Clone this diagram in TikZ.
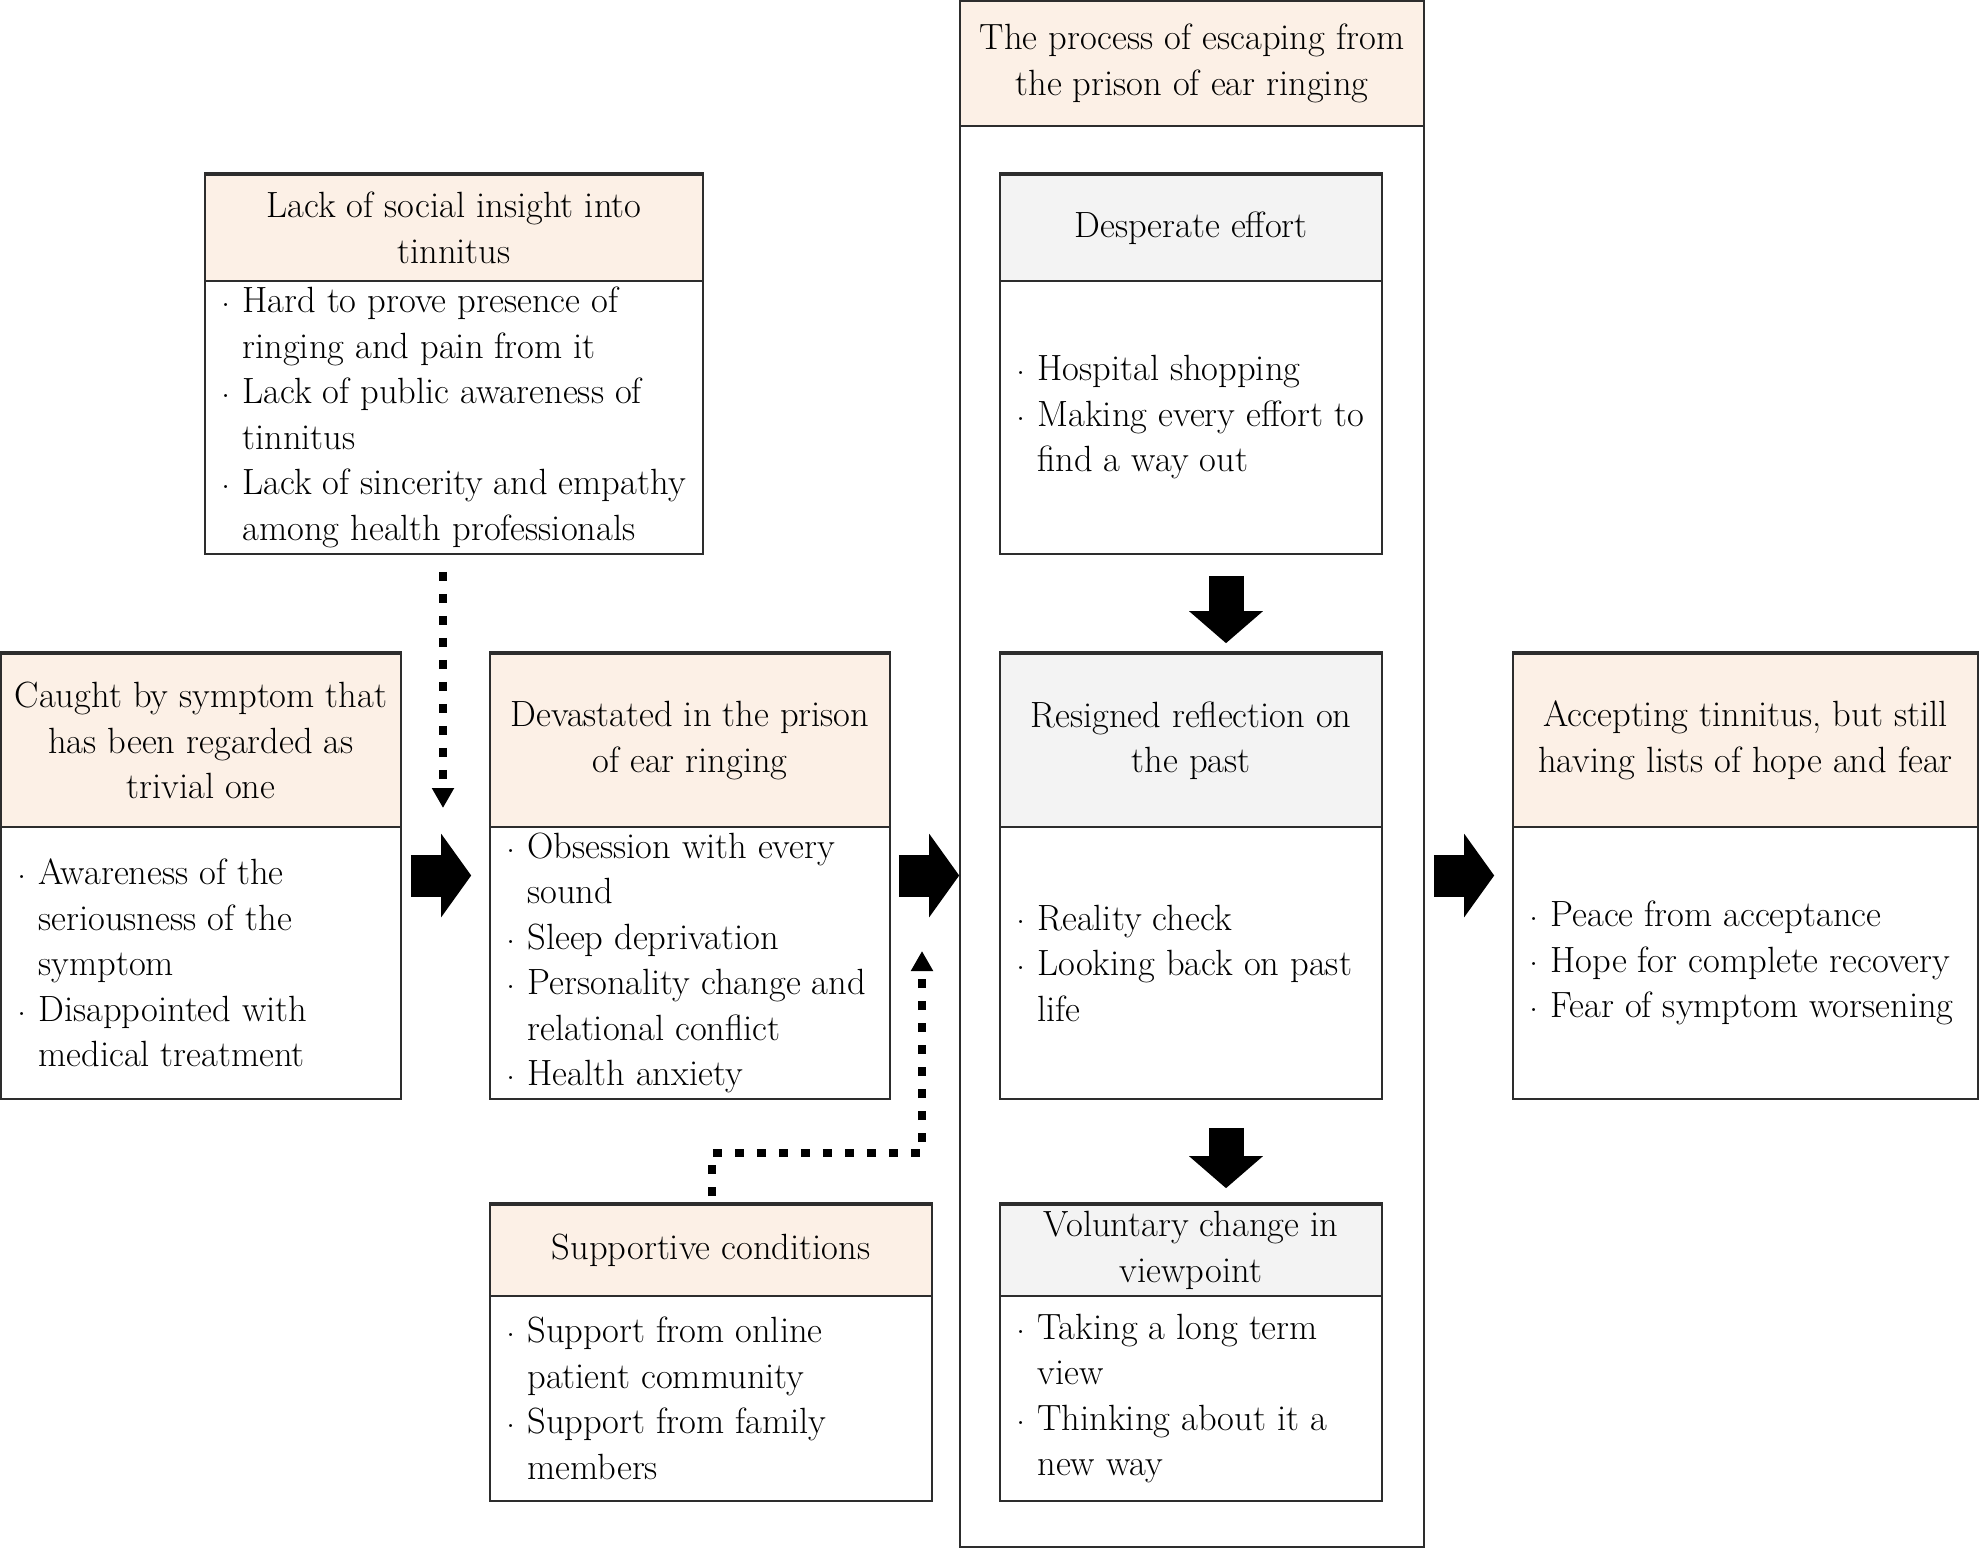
\documentclass[tikz,border=0pt]{standalone}
\usepackage{fontspec}
\usetikzlibrary{arrows.meta,calc}
\definecolor{peach}{RGB}{252,240,230}
\definecolor{lgray}{RGB}{243,243,243}
\definecolor{edge}{RGB}{45,45,45}
\newcommand{\bl}{\makebox[0.5em][l]{\hspace*{-0.08em}\raisebox{0.17em}{.}}}
\newcommand{\ct}{\hspace*{0.5em}}
\newcommand{\mkbox}[9]{%
  \node[frame, minimum width={#4-#2}, minimum height={#6-#3}] (#1) at ({(#2+#4)/2},{(#3+#6)/2}) {};
  \node[headbox, fill=#7, minimum width={#4-#2}, minimum height={#5-#3}] (#1h) at ({(#2+#4)/2},{(#3+#5)/2+2}) {#8};
  \node[bodytext] (#1b) at ({#2+19},{(#5+#6)/2+1}) {#9};
}
\begin{document}
\begin{tikzpicture}[x=1pt,y=-1pt,
  txt/.style={font=\fontsize{36.5}{45.5}\selectfont},
  frame/.style={draw=edge, line width=1.6pt, fill=white, inner sep=0pt},
  headbox/.style={draw=edge, line width=1.6pt, inner sep=0pt, align=center, txt},
  bodytext/.style={anchor=west, inner sep=0pt, align=left, txt},
  bigarrow/.style={line width=42pt, -{Triangle[length=30pt 0 0,width=82pt 0 0]}},
  downarrow/.style={line width=35pt, -{Triangle[length=32pt 0 0,width=72pt 0 0]}},
  dotarrow/.style={line width=8pt, dash pattern=on 9pt off 13pt, -{Triangle[length=20pt 0 0,width=21pt 0 0]}}
]
\useasboundingbox (0,0) rectangle (1980,1549);
\fill[white] (0,0) rectangle (1980,1549);

% big process frame
\node[frame, minimum width=464, minimum height=1546] (big) at (1192,774) {};
\node[headbox, fill=peach, minimum width=464, minimum height=125] (bigh) at (1192,63.5)
  {\raisebox{-2pt}{}The process of escaping from\\the prison of ear ringing};

\mkbox{caught}{1}{652}{401}{825}{1099}{peach}
  {Caught by symptom that\\has been regarded as\\trivial one}
  {\bl Awareness of the\\\ct seriousness of the\\\ct symptom\\\bl Disappointed with\\\ct medical treatment}

\mkbox{lack}{205}{173}{703}{279}{554}{peach}
  {Lack of social insight into\\tinnitus}
  {\bl Hard to prove presence of\\\ct ringing and pain from it\\\bl Lack of public awareness of\\\ct tinnitus\\\bl Lack of sincerity and empathy\\\ct among health professionals}

\mkbox{dev}{490}{652}{890}{825}{1099}{peach}
  {Devastated in the prison\\of ear ringing}
  {\bl Obsession with every\\\ct sound\\\bl Sleep deprivation\\\bl Personality change and\\\ct relational conflict\\\bl Health anxiety}

\mkbox{sup}{490}{1203}{932}{1294}{1501}{peach}
  {Supportive conditions}
  {\bl Support from online\\\ct patient community\\\bl Support from family\\\ct members}

\mkbox{des}{1000}{173}{1382}{279}{554}{lgray}
  {Desperate effort}
  {\bl Hospital shopping\\\bl Making every effort to\\\ct find a way out}

\mkbox{res}{1000}{652}{1382}{825}{1099}{lgray}
  {Resigned reflection on\\the past}
  {\bl Reality check\\\bl Looking back on past\\\ct life}

\mkbox{vol}{1000}{1203}{1382}{1294}{1501}{lgray}
  {Voluntary change in\\viewpoint}
  {\bl Taking a long term\\\ct view\\\bl Thinking about it a\\\ct new way}

\mkbox{acc}{1513}{652}{1978}{825}{1099}{peach}
  {Accepting tinnitus, but still\\having lists of hope and fear}
  {\bl Peace from acceptance\\\bl Hope for complete recovery\\\bl Fear of symptom worsening}

% block arrows
\draw[bigarrow] ([xshift=9pt]caught.east) -- ([xshift=-18pt]dev.west);
\draw[bigarrow] ([xshift=8pt]dev.east) -- (dev.east -| big.west);
\draw[bigarrow] ($(big.east |- acc.west)+(9,0)$) -- ([xshift=-18pt]acc.west);
\draw[downarrow] ($(des.south)+(35,21)$) -- ($(res.north)+(35,-8)$);
\draw[downarrow] ($(res.south)+(35,28)$) -- ($(vol.north)+(35,-14)$);

% dotted arrows
\coordinate (d1end) at (443,808);
\draw[dotarrow] ($(lack.south)+(-11,17)$) -- (d1end);
\coordinate (d2a) at (922,1153);
\coordinate (d2end) at (922,951);
\draw[dotarrow] ($(sup.north)+(1,-6)$) |- (d2a) -- (d2end);
\end{tikzpicture}
\end{document}
